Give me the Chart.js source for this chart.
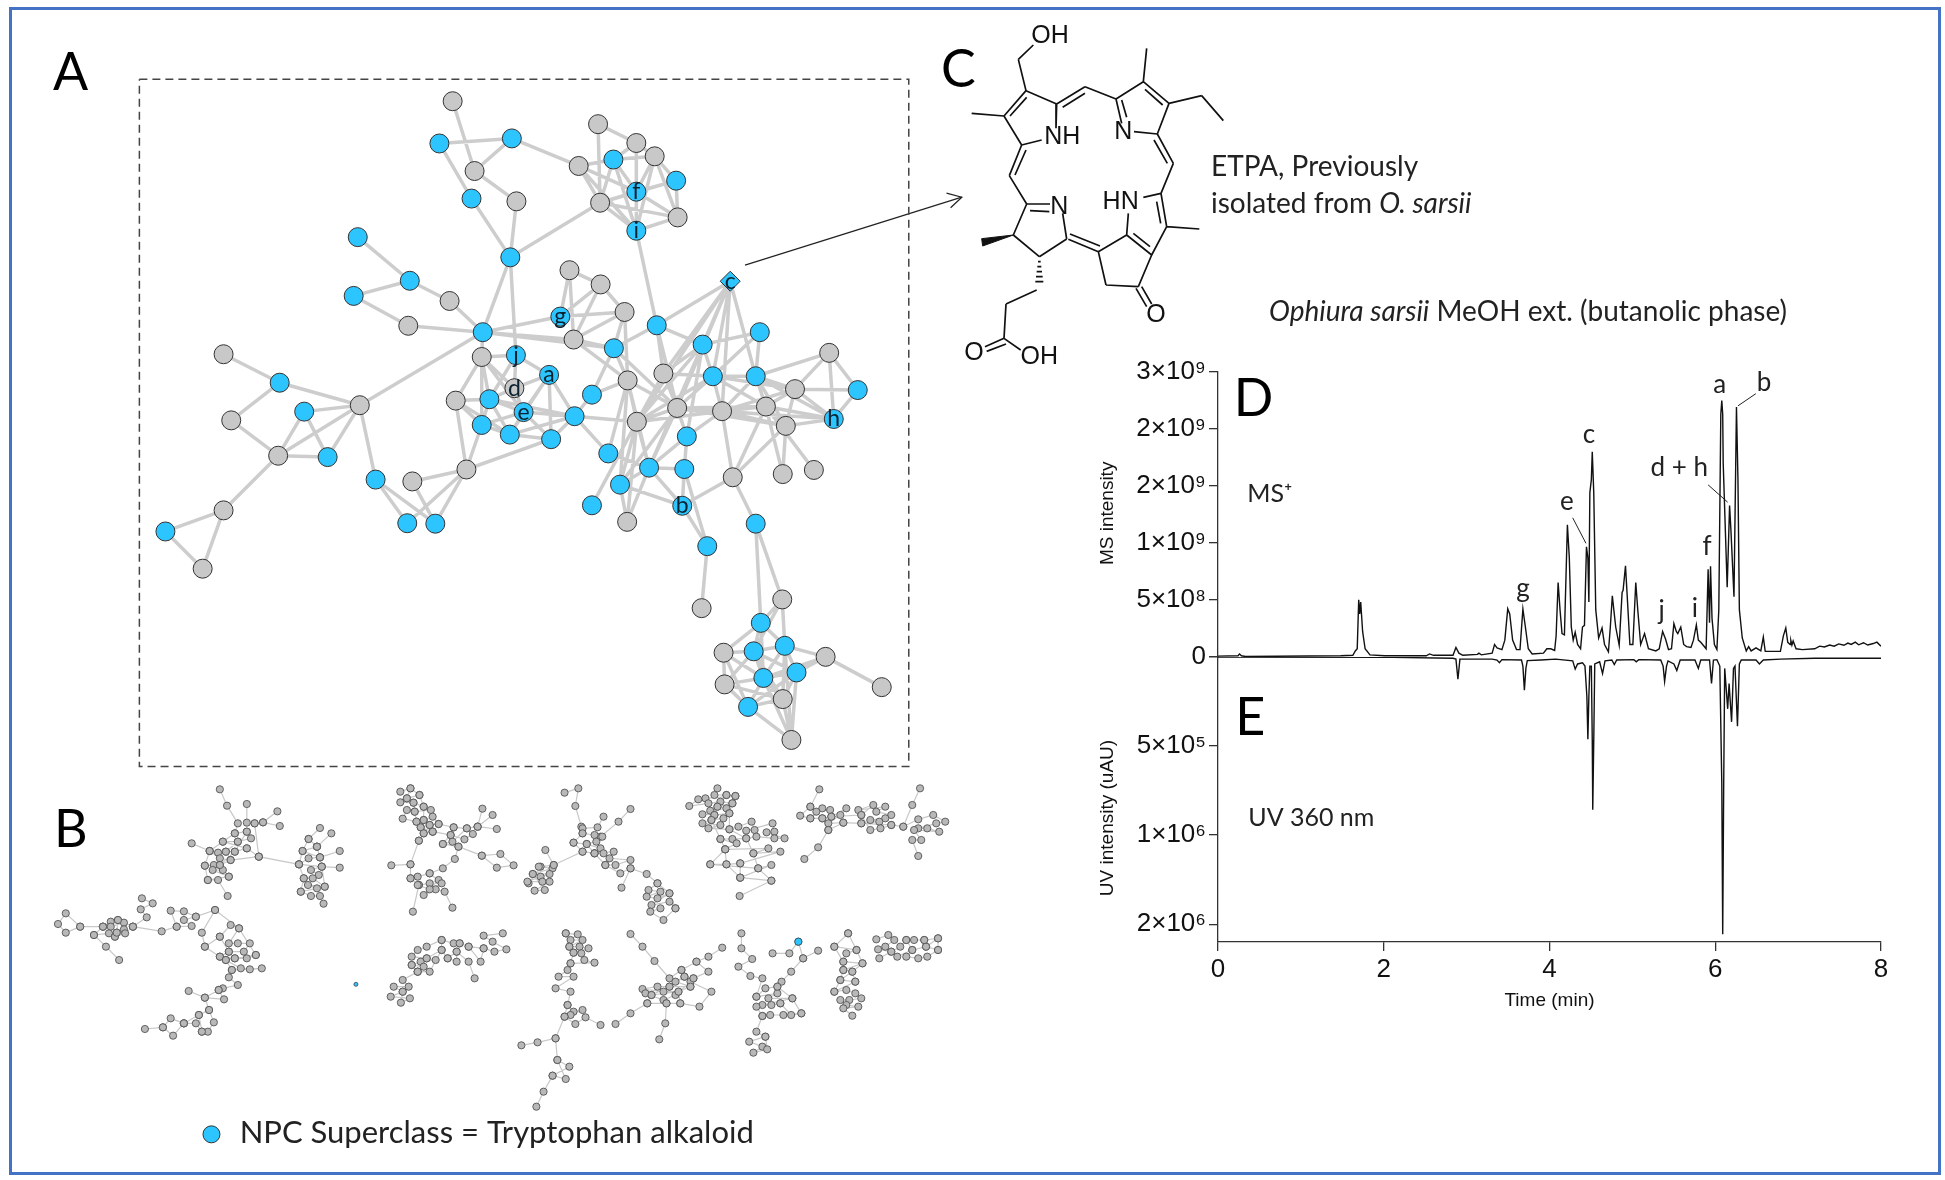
<!DOCTYPE html>
<html>
<head>
<meta charset="utf-8">
<title>Ophiura sarsii</title>
<script src="https://cdn.jsdelivr.net/npm/chart.js@4/dist/chart.umd.min.js"></script>
<style>
  html, body { margin: 0; padding: 0; background: #fff; }
  #page { position: relative; width: 1945px; height: 1180px; overflow: hidden; font-family: Lato, sans-serif; color: #111; }
  #frame { position: absolute; left: 9px; top: 7px; width: 1926px; height: 1162px; border: 3px solid #4472C4; }
  canvas { position: absolute; }
  .letter { position: absolute; font-size: 52px; line-height: 56px; color: #000; }
  .note { position: absolute; font-size: 28px; line-height: 32px; white-space: nowrap; color: #222; }
</style>
</head>
<body>
<div id="page">
  <div id="frame"></div>
  <canvas id="chartA" style="left:120px;top:70px" width="880" height="720"></canvas>
  <canvas id="chartB" style="left:40px;top:770px" width="940" height="400"></canvas>
  <canvas id="chartC" style="left:930px;top:0px" width="500" height="390"></canvas>
  <canvas id="chartD" style="left:1100px;top:352px" width="811" height="670"></canvas>
  <div class="letter" style="left:53px;top:42px">A</div>
  <div class="letter" style="left:54px;top:799px">B</div>
  <div class="letter" style="left:941px;top:39px">C</div>
  <div class="note" style="left:1211px;top:149px">ETPA, Previously</div>
  <div class="note" style="left:1211px;top:186px">isolated from <i>O. sarsii</i></div>
  <div class="note" style="left:1269px;top:294px"><i>Ophiura sarsii</i> MeOH ext. (butanolic phase)</div>
</div>

<script>
// panel A network, positions in layout units
var aX = [652,626,768,695,689,777,765,937,1012,1048,967,899,1090,1012,941,1093,1012,466,568,458,646,565,711,709,776,841,773,658,724,791,709,764,845,891,925,679,573,501,563,618,203,313,218,361,470,310,407,203,89,162,881,942,863,989,889,968,1052,1196,1142,1254,1065,995,1162,1246,1390,1323,1446,1092,1180,1266,1305,1399,1013,1111,957,1037,1106,1201,1299,1360,980,925,1102,994,1246,1151,1140,1298,1256,1183,1242,1303,1383,1326,1261,1185,1299,1231,1316,1493];
var aY = [68,160,149,220,280,286,408,118,159,188,195,209,241,265,289,321,350,364,459,492,503,557,571,625,621,664,693,720,717,745,773,794,804,754,707,870,896,892,987,988,619,681,763,744,730,840,843,959,1005,1086,436,467,537,527,587,606,556,460,598,571,661,676,667,667,616,695,697,736,743,733,775,760,766,798,835,866,869,887,880,871,903,948,949,984,988,1037,1172,1153,1204,1269,1266,1254,1278,1312,1324,1338,1370,1387,1459,1344];
var aBlue = [1,2,4,6,10,12,13,16,17,18,19,22,24,25,28,29,30,31,32,33,34,37,38,39,41,43,46,48,52,55,56,57,58,59,62,63,66,71,73,74,75,76,80,81,82,84,85,88,90,91,93,94,97];
var aEdges = [[0,3],[1,2],[1,4],[2,3],[3,5],[4,6],[5,6],[2,11],[6,14],[6,22],[6,24],
  [7,8],[7,14],[8,9],[8,16],[9,12],[9,15],[10,11],[10,14],[10,13],[10,16],[11,13],[11,14],[11,16],[13,14],[13,15],[13,16],[14,16],[14,15],[15,16],[12,15],[12,13],[8,10],[8,13],[9,13],[9,16],[9,10],[14,12],[16,56],
  [17,18],[18,19],[18,20],[19,21],[21,22],[20,22],[22,23],[22,54],[22,52],[22,55],[22,44],
  [23,24],[23,27],[23,28],[23,30],[23,26],[23,29],[24,25],[24,26],[24,28],[25,33],[25,29],[25,32],[25,26],[25,31],[26,28],[26,29],[27,28],[27,30],[27,35],[27,31],[28,29],[28,30],[28,31],[29,30],[29,31],[29,32],[29,33],[30,31],[30,35],[31,32],[31,33],[32,33],[33,34],[32,35],[33,72],[33,74],[28,33],[34,55],[34,61],
  [35,36],[35,38],[35,39],[36,39],[37,38],[37,39],[37,44],
  [40,41],[41,42],[41,44],[42,45],[43,44],[43,45],[43,46],[44,45],[44,46],[45,46],[45,47],[47,48],[47,49],[48,49],
  [50,51],[50,52],[51,53],[51,52],[52,53],[50,54],[51,54],[53,54],[53,55],[54,55],[54,61],[55,61],[53,61],[55,56],[56,57],[55,67],
  [57,58],[57,62],[57,60],[57,63],[57,67],[57,72],[57,68],[57,75],[56,60],[56,58],[56,67],[58,59],[58,62],[58,60],[58,67],[58,72],[58,75],[59,62],[59,63],[60,67],[60,72],[60,62],[61,67],[61,72],[61,80],[61,74],[62,63],[62,67],[62,68],[62,69],[62,72],[62,65],[63,64],[63,65],[63,68],[63,69],[63,70],[63,71],[64,65],[64,66],[64,71],[65,66],[65,69],[65,70],[65,71],[66,71],[69,70],[69,71],[70,71],[68,69],[68,70],[68,71],[67,68],[67,69],[67,70],[67,72],[67,75],[67,80],[67,73],[68,72],[68,73],[68,77],[69,77],[69,78],[70,78],[70,77],[69,79],[65,68],[72,75],[72,80],[73,76],[73,75],[74,75],[75,76],[75,80],[75,83],[76,82],[76,85],[75,82],[80,82],[80,83],[72,81],[77,82],[77,84],[84,88],[84,87],[82,85],[85,86],[72,83],[61,75],[58,73],[74,61],
  [87,88],[87,90],[87,91],[88,89],[88,90],[88,91],[88,94],[89,90],[89,95],[89,94],[89,97],[90,91],[90,94],[90,93],[90,95],[90,96],[91,92],[91,93],[91,94],[91,96],[92,93],[92,99],[92,94],[93,94],[93,96],[93,97],[94,95],[94,96],[94,97],[95,96],[95,97],[96,97],[96,98],[97,98],[94,98],[93,98],[91,98]];
var aNodeNames = {13:'f',16:'i',24:'j',25:'a',26:'d',29:'e',52:'g',57:'c',71:'h',82:'b'};
var aDiamond = 57;
var aBox = [38,20, 1546,20, 1546,1517, 38,1517, 38,20];
var aArrow = [1225,425, 1650,277];
var aArrowHead = [1620,268, 1650,277, 1628,300];

// panel B networks, each list is a walk through the nodes
var bPaths = [
  [300,58,312,107,330,160,325,190,305,215,283,243,275,287,280,330],
  [345,102,345,158,358,160,372,157,396,124],[372,157,400,168],[253,220,283,243],[358,160,365,260,432,283],
  [325,190,345,185,352,205,330,215,305,215,345,235,325,245,310,245,297,248,283,243,300,265,318,270,300,285,275,287,290,285,305,300,288,300,315,320,280,330,297,330,313,378],
  [345,185,325,245,300,285,315,320],[330,215,310,245,318,270,365,260],[345,235,365,260],
  [467,174,448,207,462,230,438,243,467,262,448,265,432,283,470,290,452,300,465,315,440,325,455,325,475,350,447,345,462,355,435,365,452,378,467,378,473,401],
  [486,190,462,230],[500,243,467,262],[500,293,470,290],[448,207,438,243,432,283,440,325,435,365],[462,230,467,262,470,290,475,350],
  [601,65,618,55,633,75,612,85,601,97,623,98,640,110,652,120,625,125,612,120,605,146,628,155,640,150,655,140,665,162,650,165,635,172,655,185,640,190,632,212],
  [618,55,612,85,623,98,625,125,628,155,635,172,640,190],[633,75,640,110,640,150,650,165,655,185],
  [665,162,690,172,712,175,730,170,738,116],[730,170,755,135],[730,170,762,177],[690,172,685,195,708,208,722,192,712,175,688,215,672,222,698,230,737,257,768,252,790,286,762,293,737,257],
  [655,185,685,195,672,222],[698,230,692,267,672,295,650,310,630,320,618,325,632,345,650,340,665,330,640,375,660,358,675,365,688,413],[632,345,622,425],[618,325,618,283,586,286],[618,283,632,212],[650,310,670,340,650,358,630,345],
  [875,68,898,55,893,108,903,170,905,190,890,218,905,245,857,285,835,290,815,340],
  [832,290,855,295,822,312,850,312,835,320,813,335,838,335,850,335,825,362,842,360,822,312],[843,240,857,285],
  [940,140,930,172,905,175],[985,117,965,155,935,200],
  [905,190,925,195,938,200,928,215,912,222,935,235,940,250,925,250,957,245,950,265,985,270,960,285,943,285,968,310,985,295,970,353],
  [905,245,925,250,943,285],[890,218,912,222,925,250],[985,295,1012,312,1030,340,1015,360,1035,365,1012,380,1030,385,1050,370,1020,405,1050,395,1060,415,1040,450,1018,425,1035,415],[1030,340,1050,370,1060,415],
  [1130,55,1125,75,1145,75,1160,78,1110,85,1098,88,1083,108,1115,100,1135,95,1155,100,1130,110,1145,115,1118,122,1105,133,1125,135,1150,130,1140,145,1120,150,1105,160,1135,165,1115,175,1150,178,1165,170,1187,155,1192,180,1178,182,1222,160,1225,185,1212,187,1242,205,1225,205,1195,200,1178,205,1155,207,1135,207,1162,220,1143,238,1215,235,1190,250,1235,245,1168,280,1145,283,1118,283,1198,295,1220,285,1168,323,1220,332,1167,378],
  [1145,75,1130,110,1125,135,1120,150,1135,207,1143,238,1118,283],[1160,78,1155,100,1150,130,1150,178,1178,205,1190,250,1198,295,1220,332],[1168,280,1168,323],[1143,238,1145,283,1168,323],
  [1300,58,1285,110,1268,137,1285,145,1305,115,1318,120,1295,125,1285,110],[1285,145,1305,145,1320,140,1345,115,1335,135,1315,160,1340,158,1315,180,1305,145],[1320,140,1370,135,1390,105,1365,120,1410,110,1395,125,1420,135,1410,145,1385,150,1400,155,1370,160,1420,165,1402,175,1385,180,1370,135],
  [1340,158,1370,160],[1420,165,1440,170,1465,148,1490,135,1510,155,1495,160,1465,175,1480,175,1500,185,1458,180,1470,210,1455,210,1465,258],[1468,55,1455,105,1440,170],[1315,180,1298,232,1275,267],
  [170,385,188,400,168,418,178,442,155,470,130,450,118,455,105,470,118,470,140,458,140,478,128,488,115,490,90,495,110,530,132,570],[125,500,142,490,155,470],[125,500,128,488,130,450],[105,470,67,470,43,430,30,462,43,488,67,470],[90,495,105,470],
  [155,470,203,484,228,470,218,422,240,424,260,440,240,450,253,468,228,470],[260,440,292,420,270,488,275,530,300,500,318,465,332,475,315,520,330,520,350,520,340,545,315,545,300,560,325,565,345,565,360,555,310,570,335,595,350,598,370,595,320,600,315,622,330,645,305,655,298,660,307,688,275,683,248,663],
  [292,420,332,475,360,555],[300,500,315,545,325,565],[275,530,300,560,310,570,320,600],[298,660,275,683,282,720,265,735,240,760,260,760,270,785,280,785,290,757,282,720],[240,760,218,745,205,772,222,797,240,760],[205,772,175,777],[265,735,270,785],
  [772,490,740,497,755,515,778,538,758,545,740,535,735,575,715,530,700,520,690,520,670,510,645,530,630,540,620,560,645,565,660,570,635,575,620,585,640,590,630,605,650,605,670,540,680,565,695,575,695,545,715,575,725,625],
  [700,520,695,545,680,565],[670,510,670,540,645,565],[740,535,715,530],[630,605,605,630,615,650,590,650,605,665,585,680,617,685,602,698,605,665],[620,585,630,605],
  [877,490,897,493,885,510,905,510,883,530,900,530,915,535,890,548,903,550,908,570,925,578,885,580,880,600,865,620,890,620,860,655,885,665,880,705,890,725,905,720,885,735,875,740,893,762,910,742,935,765],
  [877,490,883,530,890,548,885,580],[880,705,875,740,860,805,830,817,803,826],[860,805,863,870,883,890,855,917,877,927,863,870],[855,917,840,965,828,1010],
  [985,492,1005,530,1025,573,1050,625,1070,600,1095,575,1115,560,1138,533],[1095,575,1115,605,1090,625,1075,620,1060,635,1085,650,1050,650,1030,650,1005,657,1040,665,1065,665,1020,675,1010,670,1040,690,1060,675,1085,635,1120,665,1100,710,1068,700,1045,700,1013,700,985,730,960,762],
  [1070,600,1075,620,1050,650,1020,675,1013,700],[1090,625,1085,650,1065,665,1068,700],[1045,700,1043,760,1033,808],
  [1170,490,1170,535,1188,567,1165,590,1185,618,1205,625,1195,680,1210,655,1230,650,1237,635,1253,605,1273,565,1298,542],[1273,565,1265,515,1250,550,1222,550],
  [1195,680,1230,670,1215,685,1255,685,1205,705,1220,705,1235,700,1195,710,1205,738,1218,735,1240,735,1270,730,1253,735,1235,700],[1230,650,1255,685,1270,730],[1205,738,1195,785,1210,800,1183,815,1205,830,1190,848,1213,838,1210,800],
  [1348,490,1325,530,1362,540,1345,550,1340,575,1372,580,1340,600,1355,605,1335,630,1360,635,1325,665,1345,660,1360,670,1370,685,1350,690,1335,690,1345,705,1365,710,1340,715,1355,737],[1348,490,1362,540,1372,580,1355,605,1360,635],[1325,530,1340,575,1340,600,1335,630,1325,665],
  [1395,508,1415,495,1425,510,1410,530,1398,538,1420,545,1400,565,1435,530,1445,510,1458,510,1475,510,1498,505,1478,530,1498,540,1480,560,1465,565,1445,560,1455,540,1430,560,1420,545],[1445,510,1455,540,1478,530,1475,510],[1498,505,1498,540]
];
var bBlueX = [1265,527];
var bBlueY = [515,643];
var bLegendX = [286];
var bLegendY = [1093];

// panel C structure, [x1,y1,x2,y2] per bond
var cBonds = [[265,178,310,135],[265,178,288,272],[288,272,380,312],[380,312,378,385],[335,420,275,435],[275,435,222,348],[222,348,288,272],[240,348,290,292],[222,348,125,340],
  [380,312,465,260],[398,322,465,280],[465,260,558,297],[558,297,640,245],[640,245,717,310],[645,268,698,315],[717,310,682,402],[682,402,612,395],[558,297,575,370],[575,300,590,352],[640,245,650,145],[717,310,815,287],[815,287,880,362],
  [682,402,730,490],[672,420,712,490],[730,490,693,580],[693,580,640,592],[693,580,710,680],[680,605,692,670],[710,680,808,687],[710,680,665,765],[665,765,590,705],[660,740,610,700],[590,705,595,640],
  [590,705,505,755],[505,755,528,855],[528,855,625,860],[625,860,665,765],[618,865,650,920],[635,860,665,912],
  [415,718,505,755],[420,702,510,738],[410,717,398,640],[410,717,328,770],[328,770,250,705],[250,705,290,612],[290,612,360,612],[300,632,358,635],[290,612,238,527],[238,527,275,435],[255,525,288,450],
  [320,870,228,912],[228,912,222,1015],[222,1015,272,1050],[222,1015,165,1040],[228,1032,170,1054],
  [324,785,332,785],[322,800,334,800],[320,815,336,815],[318,830,338,830],[316,845,340,845]];
var cWedge = [250,705, 155,716, 158,738, 250,705];
var cAtoms = ['OH','NH','N','N','HN','O','O','OH'];
var cAtomX = [360,397,580,388,572,678,132,328];
var cAtomY = [108,412,395,622,605,945,1058,1072];

// panel D MS trace, time in min, intensity in 1e8
var msTime = [0,0.242,0.259,0.283,0.33,1.48,1.627,1.657,1.68,1.698,1.71,1.722,1.745,1.775,1.834,2.01,2.512,2.553,2.6,2.836,2.871,2.907,2.954,3.131,3.148,3.178,3.308,3.337,3.367,3.426,3.461,3.496,3.52,3.555,3.602,3.644,3.679,3.709,3.744,3.791,3.927,3.968,4.015,4.062,4.08,4.104,4.127,4.151,4.18,4.216,4.239,4.263,4.286,4.31,4.339,4.375,4.398,4.422,4.446,4.463,4.475,4.487,4.505,4.516,4.534,4.558,4.593,4.634,4.664,4.711,4.734,4.758,4.776,4.799,4.841,4.876,4.888,4.917,4.941,4.97,5.006,5.041,5.065,5.1,5.147,5.194,5.283,5.324,5.365,5.401,5.436,5.472,5.501,5.53,5.548,5.584,5.619,5.654,5.707,5.737,5.772,5.796,5.825,5.855,5.89,5.914,5.931,5.943,5.961,5.99,6.02,6.043,6.067,6.079,6.09,6.096,6.144,6.173,6.19,6.226,6.256,6.274,6.291,6.326,6.374,6.403,6.433,6.492,6.55,6.58,6.603,6.786,6.822,6.851,6.875,6.904,6.912,6.925,6.94,6.975,7.052,7.2,7.26,7.317,7.38,7.435,7.49,7.553,7.6,7.64,7.69,7.73,7.789,7.84,7.907,7.95,8];
var msValue = [0.08,0.11,0.27,0.11,0.04,0.11,0.15,0.53,0.72,5.02,3.77,4.83,2.24,0.72,0.19,0.11,0.11,0.27,0.15,0.15,0.84,0.34,0.15,0.23,0.34,0.19,0.34,1.1,0.8,0.65,1.48,4.22,3.77,1.48,0.65,0.65,4.22,2.63,0.72,0.27,0.34,0.72,0.72,0.57,1.86,6.54,4.15,2.05,1.94,11.6,8.71,2.63,1.48,2.17,1.1,0.72,2.63,2.78,9.66,8.71,4.83,14.42,15.56,18,14.42,4.15,1.67,2.55,1.1,0.46,2.63,5.37,4.15,2.63,1.03,5.67,5.86,7.99,4.91,1.1,1.1,6.54,4.15,1.1,2.05,0.72,0.53,0.72,2.24,1.56,0.65,0.72,2.93,2.24,2.05,2.63,1.1,0.91,0.84,1.48,2.82,1.48,1.29,1.03,0.72,7.69,3.01,7.95,3.39,1.1,0.65,4.15,21.3,22.5,21.3,17,6.13,13.28,11,5.29,21.92,15.56,4.15,1.67,0.53,0.91,0.53,0.8,0.53,1.75,0.49,0.49,1.86,2.55,1.29,1.1,1.45,1.05,1.41,0.72,0.65,0.72,0.95,0.88,1.05,0.95,1.15,1.03,1.22,1.1,1.3,1.07,1.25,1.05,1.18,1.3,0.95];

// panel E UV trace, time in min, intensity in 1e5 (drawn downwards)
var uvTime = [0,2.1,2.836,2.871,2.895,2.919,3.308,3.367,3.396,3.426,3.662,3.679,3.697,3.715,3.732,3.897,4.074,4.28,4.31,4.339,4.398,4.428,4.451,4.463,4.475,4.487,4.505,4.516,4.522,4.534,4.546,4.605,4.64,4.67,4.752,4.782,4.811,5.018,5.047,5.077,5.342,5.371,5.389,5.412,5.43,5.501,5.536,5.577,5.755,5.796,5.825,5.931,5.955,5.978,6.02,6.055,6.079,6.09,6.102,6.114,6.15,6.167,6.197,6.22,6.238,6.268,6.291,6.314,6.492,6.533,6.58,6.786,7.2,8];
var uvValue = [0,0.02,0.07,0.12,1.25,0.12,0.12,0.17,0.32,0.15,0.17,0.51,1.86,0.64,0.2,0.17,0.12,0.22,0.68,0.39,0.32,0.51,2.22,4.62,2.22,0.51,0.51,4.67,8.58,4.67,0.39,0.27,0.93,0.22,0.17,0.42,0.17,0.15,0.27,0.15,0.17,0.51,1.37,0.51,0.22,0.39,0.76,0.17,0.17,0.64,0.17,0.17,1.49,0.17,0.15,0.51,7.11,15.57,7.11,0.64,2.91,1.49,3.64,0.64,0.51,3.89,0.39,0.17,0.17,0.39,0.17,0.12,0.07,0.07];

var xTicks = [0,2,4,6,8];
var msTicks = [0,5,10,15,20,25];
var msTickLabels = ['0','5×10⁸','1×10⁹','2×10⁹','2×10⁹','3×10⁹'];
var uvTicks = [0,5,10,15];
var uvTickLabels = ['','5×10⁵','1×10⁶','2×10⁶'];
var peakNames = ['a','b','c','d + h','e','f','g','j','i'];
var peakTime = [6.055,6.59,4.475,5.566,4.21,5.9,3.68,5.353,5.755];
var peakValue = [23.86,24.1,19.48,16.63,13.66,9.66,5.97,4.03,4.26];
var leaders = [[4.28,12.21,4.44,9.97],[5.914,15.1,6.15,13.58],[6.274,22.03,6.49,23.1]];

var BLUE = '#2CC5FF', GREY = '#C8C8C8', EDGE = '#CDCDCD';

// writes text at data positions
var textLabels = {
    id: 'textLabels',
    afterDatasetsDraw: function(chart, args, opts) {
        var ctx = chart.ctx;
        (opts.items || []).forEach(function(it) {
            var yScale = chart.scales[it.axis || 'y'];
            ctx.save();
            ctx.translate(chart.scales.x.getPixelForValue(it.x), yScale.getPixelForValue(it.y));
            if (it.upright) {
                ctx.rotate(-Math.PI / 2);
            }
            ctx.font = it.font;
            ctx.fillStyle = it.color || '#222';
            ctx.textAlign = it.align || 'center';
            ctx.textBaseline = 'middle';
            ctx.fillText(it.text, 0, 0);
            ctx.restore();
        });
    }
};
Chart.register(textLabels);

function linePath(flat) {
    var out = [];
    for (var i = 0; i < flat.length; i += 2) {
        out.push({x: flat[i], y: flat[i + 1]});
    }
    return out;
}

function plain(w, h, datasets, items) {
    return {
        type: 'scatter',
        data: {datasets: datasets},
        options: {
            responsive: false,
            animation: false,
            events: [],
            layout: {padding: 0, autoPadding: false},
            scales: {
                x: {display: false, min: 0, max: w},
                y: {display: false, min: 0, max: h, reverse: true}
            },
            plugins: {legend: {display: false}, tooltip: {enabled: false}, textLabels: {items: items}}
        }
    };
}

function lines(points, color, width, dash) {
    return {data: points, showLine: true, spanGaps: false, pointRadius: 0, borderColor: color, borderWidth: width, borderDash: dash || [], clip: false};
}

/****** panel A *********/
var aEdgePoints = [];
aEdges.forEach(function(e) {
    aEdgePoints.push({x: aX[e[0]], y: aY[e[0]]}, {x: aX[e[1]], y: aY[e[1]]}, {x: NaN, y: NaN});
});
var aNodes = aX.map(function(x, i) { return {x: x, y: aY[i]}; });
var aItems = Object.keys(aNodeNames).map(function(k) {
    return {text: aNodeNames[k], x: aX[k], y: aY[k], font: '23px Lato', color: '#0b2230'};
});
new Chart(document.getElementById('chartA'), plain(1724.8, 1568, [
    {data: aNodes,
     pointRadius: aX.map(function(x, i) { return i === aDiamond ? 10 : 9.5; }),
     pointStyle: aX.map(function(x, i) { return i === aDiamond ? 'rectRot' : 'circle'; }),
     pointBackgroundColor: aX.map(function(x, i) { return aBlue.indexOf(i) >= 0 ? BLUE : GREY; }),
     pointBorderColor: '#333', pointBorderWidth: 1, clip: false},
    lines(aEdgePoints, EDGE, 3.5),
    lines(linePath(aBox), '#444', 1.5, [8, 5]),
    lines(linePath(aArrow), '#222', 1.2),
    lines(linePath(aArrowHead), '#222', 1.2)
], aItems));

/****** panel B *********/
var bEdgePoints = [], bNodes = [];
bPaths.forEach(function(p) {
    linePath(p).forEach(function(pt) { bEdgePoints.push(pt); bNodes.push(pt); });
    bEdgePoints.push({x: NaN, y: NaN});
});
new Chart(document.getElementById('chartB'), plain(1568, 1200, [
    {data: bLegendX.map(function(x, i) { return {x: x, y: bLegendY[i]}; }), pointRadius: 8.5, pointBackgroundColor: BLUE, pointBorderColor: '#333', pointBorderWidth: 1, clip: false},
    {data: bBlueX.map(function(x, i) { return {x: x, y: bBlueY[i]}; }), pointRadius: [3.6, 2], pointBackgroundColor: BLUE, pointBorderColor: '#444', pointBorderWidth: 0.8},
    {data: bNodes, pointRadius: 3.6, pointBackgroundColor: '#B8B8B8', pointBorderColor: '#555', pointBorderWidth: 0.9},
    lines(bEdgePoints, '#C8C8C8', 1.2)
], [{text: 'NPC Superclass = Tryptophan alkaloid', x: 333, y: 1090, align: 'left', font: '31px Lato'}]));

/****** panel C *********/
var cBondPoints = [];
cBonds.forEach(function(b) {
    cBondPoints.push({x: b[0], y: b[1]}, {x: b[2], y: b[3]}, {x: NaN, y: NaN});
});
var cWedgeSet = lines(linePath(cWedge), '#111', 1);
cWedgeSet.fill = 'shape';
cWedgeSet.backgroundColor = '#111';
new Chart(document.getElementById('chartC'), plain(1500, 1170, [
    lines(cBondPoints, '#111', 1.7),
    cWedgeSet
], cAtoms.map(function(a, i) {
    return {text: a, x: cAtomX[i], y: cAtomY[i], font: '25px "Liberation Sans"', color: '#111'};
})));

/****** panels D and E *********/
function fixWidth(scale) { scale.width = 118; }
function tickText(values, labels) {
    return function(value) {
        var i = values.indexOf(value);
        return i >= 0 ? labels[i] : '';
    };
}
function yAxis(max, weight, order, rev, ticks, labels) {
    return {
        position: 'left', stack: 'left', stackWeight: weight, weight: order, min: 0, max: max, reverse: rev,
        afterBuildTicks: function(scale) { scale.ticks = ticks.map(function(v) { return {value: v}; }); },
        afterFit: fixWidth,
        grid: {drawOnChartArea: false, tickLength: 9, color: '#333', lineWidth: 1.3},
        border: {color: '#333', width: 1.3},
        ticks: {font: {family: 'Liberation Sans', size: 26}, color: '#111', padding: 3, autoSkip: false, maxRotation: 0,
                callback: tickText(ticks, labels)}
    };
}
function trace(times, values, axis) {
    return {data: times.map(function(t, i) { return {x: t, y: values[i]}; }), yAxisID: axis, showLine: true, pointRadius: 0, borderColor: '#111', borderWidth: 1.4, tension: 0};
}
var dItems = peakNames.map(function(n, i) {
    return {text: n, x: peakTime[i], y: peakValue[i], font: '26px Lato'};
});
dItems.push({text: 'D', x: 0.43, y: 22.6, font: '52px Lato', color: '#000'});
dItems.push({text: 'E', x: 0.39, y: 3.45, axis: 'uv', font: '52px Lato', color: '#000'});
dItems.push({text: 'MS⁺', x: 0.625, y: 14.3, font: '25px Lato'});
dItems.push({text: 'UV 360 nm', x: 1.126, y: 9.02, axis: 'uv', font: '25px Lato'});
dItems.push({text: 'MS intensity', x: -1.335, y: 12.6, upright: true, font: '19px "Liberation Sans"', color: '#111'});
dItems.push({text: 'UV intensity (uAU)', x: -1.335, y: 9.04, axis: 'uv', upright: true, font: '19px "Liberation Sans"', color: '#111'});
var leaderSets = leaders.map(function(l) {
    return {data: linePath(l), yAxisID: 'y', showLine: true, pointRadius: 0, borderColor: '#222', borderWidth: 1};
});
new Chart(document.getElementById('chartD'), {
    type: 'scatter',
    data: {datasets: [trace(msTime, msValue, 'y'), trace(uvTime, uvValue, 'uv')].concat(leaderSets)},
    options: {
        responsive: false,
        animation: false,
        events: [],
        layout: {padding: {top: 20, right: 30, left: 0, bottom: 10}, autoPadding: false},
        scales: {
            x: {
                position: 'bottom', min: 0, max: 8,
                afterBuildTicks: function(scale) { scale.ticks = xTicks.map(function(v) { return {value: v}; }); },
                afterFit: function(scale) { scale.height = 70; },
                grid: {drawOnChartArea: false, tickLength: 9, color: '#333', lineWidth: 1.3},
                border: {color: '#333', width: 1.3},
                ticks: {font: {family: 'Liberation Sans', size: 26}, color: '#111', padding: 3, maxRotation: 0},
                title: {display: true, text: 'Time (min)', font: {family: 'Liberation Sans', size: 19}, color: '#111', padding: {top: 0, bottom: 0}}
            },
            y: yAxis(25, 285, 1, false, msTicks, msTickLabels),
            uv: yAxis(16, 285, 0, true, uvTicks, uvTickLabels)
        },
        plugins: {legend: {display: false}, tooltip: {enabled: false}, textLabels: {items: dItems}}
    }
});
</script>
</body>
</html>
